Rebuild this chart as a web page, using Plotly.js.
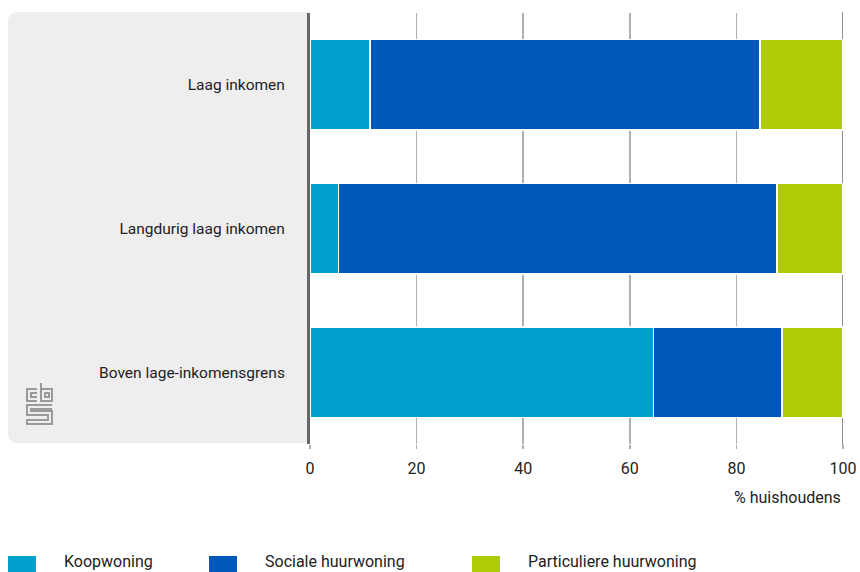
<!DOCTYPE html>
<html>
<head>
<meta charset="utf-8">
<script src="https://cdn.plot.ly/plotly-3.0.1.min.js"></script>
<style>html,body{margin:0;padding:0;background:#fff;}#chart{width:860px;height:572px;}</style>
</head>
<body>
<div id="chart"></div>
<script>
const categories = ["Laag inkomen", "Langdurig laag inkomen", "Boven lage-inkomensgrens"];
const seriesNames = ["Koopwoning", "Sociale huurwoning", "Particuliere huurwoning"];
const koopwoning = [11.3, 5.3, 64.4];
const socialeHuur = [73.1, 82.3, 24.2];
const particuliereHuur = [15.6, 12.4, 11.4];
const xTicks = [0, 20, 40, 60, 80, 100];
const colors = ["#00a1cd", "#0058b8", "#afcb05"];
const xTitle = "% huishoudens";

const W = 860, H = 572;
const L = 310, R = 17, T = 13, B = 128;
const pw = W - L - R, ph = H - T - B;
const px = x => (x - L) / pw;
const py = y => (H - B - y) / ph;

const values = [koopwoning, socialeHuur, particuliereHuur];
const traces = values.map((v, i) => ({
  type: "bar", orientation: "h", name: seriesNames[i],
  y: categories, x: v, width: 0.63,
  marker: {color: colors[i], line: {color: "#ffffff", width: 1.5}},
  hoverinfo: "x+name", showlegend: false
}));

const shapes = [];
// grey label panel with rounded left corners
const x0 = px(8), x1 = px(308), y0 = py(443), y1 = py(12);
const rx = 10 / pw, ry = 10 / ph;
shapes.push({
  type: "path", xref: "paper", yref: "paper", layer: "below",
  path: `M ${x1},${y1} L ${x0+rx},${y1} Q ${x0},${y1} ${x0},${y1-ry} L ${x0},${y0+ry} Q ${x0},${y0} ${x0+rx},${y0} L ${x1},${y0} Z`,
  fillcolor: "#eeeeee", line: {width: 0}
});
// darker final gridline
shapes.push({type: "line", xref: "x", yref: "paper", x0: 100, x1: 100, y0: py(447), y1: py(12), layer: "below", line: {color: "#666666", width: 1.5}});

// CBS logo (decorative)
const logoPaths = [
  "M37,389 H27 V401 H37", "M37,393 H31 V397 H37",
  "M41,383 V401 H52 V389 H41", "M45,393 H49 V397 H45 Z",
  "M52,405 H27 V415 H48 V420 H27 V424 H52 V411 H31 V409 H52",
];
logoPaths.forEach(p => {
  const conv = p.replace(/([MHVL])\s*([\d.]+)(?:,([\d.]+))?/g, (m, c, a, b) => {
    if (c === "H") return `H ${px(+a)}`;
    if (c === "V") return `V ${py(+a)}`;
    return `${c} ${px(+a)},${py(+b)}`;
  });
  shapes.push({type: "path", xref: "paper", yref: "paper", path: conv, line: {color: "#9a9a9a", width: 2}});
});

const annotations = [];
// x axis title
annotations.push({xref: "paper", yref: "paper", x: 1, y: py(497), xanchor: "right", yanchor: "middle",
  text: xTitle, showarrow: false, font: {size: 16, color: "#222"}});

// custom legend
const legX = [8, 209, 472];
seriesNames.forEach((n, i) => {
  shapes.push({type: "rect", xref: "paper", yref: "paper", x0: px(legX[i]), x1: px(legX[i] + 28), y0: py(572), y1: py(556),
    fillcolor: colors[i], line: {width: 0}});
  annotations.push({xref: "paper", yref: "paper", x: px(legX[i] + 54), y: py(561), xanchor: "left", yanchor: "middle",
    text: n, showarrow: false, font: {size: 16, color: "#222"}});
});

const layout = {
  width: W, height: H,
  margin: {l: L, r: R, t: T, b: B, pad: 0},
  paper_bgcolor: "#ffffff", plot_bgcolor: "rgba(0,0,0,0)",
  barmode: "stack", bargap: 0.37,
  font: {family: "Roboto, 'Noto Sans', sans-serif", size: 15, color: "#222"},
  xaxis: {range: [0, 100], tickvals: xTicks, ticktext: xTicks.map(String), showgrid: true, gridcolor: "#b0b0b0", gridwidth: 1.5,
    zeroline: false, ticks: "outside", ticklen: 4, tickcolor: "#b0b0b0", tickwidth: 1.5, fixedrange: true,
    ticklabelstandoff: 6, tickfont: {size: 16, color: "#222"}},
  yaxis: {categoryorder: "array", categoryarray: categories, autorange: "reversed", showline: true, linecolor: "#666666", linewidth: 3,
    ticks: "outside", ticklen: 19, tickcolor: "rgba(0,0,0,0)", showgrid: false, fixedrange: true,
    tickfont: {size: 15.5, color: "#222"}},
  shapes: shapes, annotations: annotations, showlegend: false
};

Plotly.newPlot("chart", traces, layout, {displayModeBar: false, staticPlot: true});
</script>
</body>
</html>
